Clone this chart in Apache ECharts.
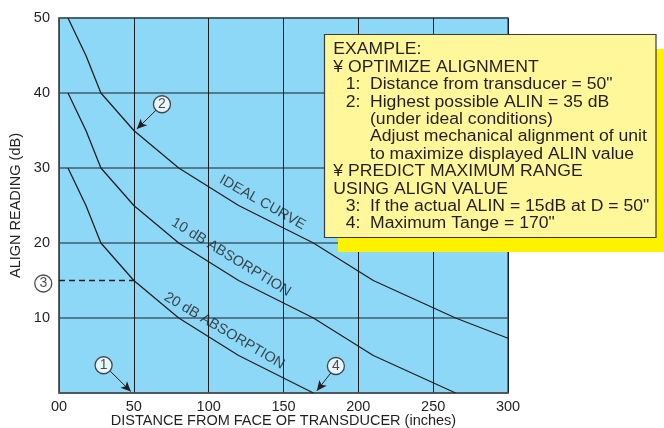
<!DOCTYPE html>
<html><head><meta charset="utf-8">
<script src="https://cdn.jsdelivr.net/npm/echarts@6/dist/echarts.min.js"></script>
<style>html,body{margin:0;padding:0;background:#fff}#c{width:664px;height:428px}</style>
</head><body><div id="c"></div>
<script>
// ---- data ----
const xTickLabels = ['00','50','100','150','200','250','300'];
const idealX = [6,18,28,50,80,120,170,210,265,300];
const idealY = [50,45,40,35,30,25,20,15,10,7.3];
const abs10X = [6,18,28,50,80,120,170,210,265];
const abs10Y = [40,35,30,25,20,15,10,5,0];
const abs20X = [6,18,28,50,80,120,170];
const abs20Y = [30,25,20,15,10,5,0];
const dashX = [0,50];
const dashY = [15,15];
const curveLabels = ['IDEAL CURVE','10 dB ABSORPTION','20 dB ABSORPTION'];
const curveLabelX = [136,115,110.5];
const curveLabelY = [25.4,18.1,8.3];
const curveLabelAngle = [-29.5,-31.5,-30.5];
const markerLabels = ['1','2','3','4'];
const markerX = [29.8,68.8,-10.5,185];
const markerY = [3.7,38.5,14.6,3.6];
const arrowStartX = [34.3,64.8,181.7];
const arrowStartY = [2.9,37.7,2.7];
const arrowEndX = [48,52,172.3];
const arrowEndY = [0.2,35.2,0.3];
const boxNums = ['','','1:','2:','','','','','','3:','4:'];
const boxLines = ['EXAMPLE:','¥ OPTIMIZE ALIGNMENT','Distance from transducer = 50"','Highest possible ALIN = 35 dB','(under ideal conditions)','Adjust mechanical alignment of unit','to maximize displayed ALIN value','¥ PREDICT MAXIMUM RANGE','USING ALIGN VALUE','If the actual ALIN = 15dB at D = 50"','Maximum Tange = 170"'];
const boxIndent = [0,0,1,1,1,1,1,0,0,1,1];

const zip = (a,b) => a.map((v,i)=>[v,b[i]]);
const ink = '#231f20';
const font = 'Liberation Sans, Arial, Helvetica, sans-serif';

const curve = (name, xs, ys) => ({
  type:'line', name, data: zip(xs,ys), symbol:'none', z:3,
  lineStyle:{color:ink, width:1.3}, animation:false
});

const graphic = [];
graphic.push({type:'rect', z:100, shape:{x:338,y:49,width:326,height:203}, style:{fill:'#fff200'}});
graphic.push({type:'rect', z:101, shape:{x:324.5,y:34.5,width:331.5,height:203}, style:{fill:'#fff799', stroke:'#3a3a3a', lineWidth:1.2}});
boxLines.forEach((t,i)=>{
  const y = 50 + i*17.4;
  if (boxNums[i]) graphic.push({type:'text', z:102, x:345.7, y, scaleX:1.1, style:{text:boxNums[i], fill:ink, font:'16px '+font, textVerticalAlign:'middle'}});
  graphic.push({type:'text', z:102, x: boxIndent[i] ? 370 : 333.3, y, scaleX:1.1, style:{text:t, fill:ink, font:'16px '+font, textVerticalAlign:'middle'}});
});

const chart = echarts.init(document.getElementById('c'), null, {renderer:'canvas'});
chart.setOption({
  animation:false,
  backgroundColor:'#ffffff',
  grid:{left:59, right:156, top:18, bottom:35, outerBoundsMode:'none', containLabel:false, show:true, backgroundColor:'#8ed8f7', borderColor:'#555', borderWidth:1.5},
  xAxis:{type:'value', min:0, max:300, interval:50,
    name:'DISTANCE FROM FACE OF TRANSDUCER (inches)', nameLocation:'middle', nameGap:20, nameMoveOverlap:false,
    nameTextStyle:{color:ink, fontSize:14.5, fontFamily:font},
    axisLine:{show:true, lineStyle:{color:'#555', width:1.5}}, axisTick:{show:false},
    axisLabel:{color:ink, fontSize:14.5, fontFamily:font, margin:6, formatter:(v)=>xTickLabels[Math.round(v/50)]},
    splitLine:{show:true, lineStyle:{color:'#1c1c1c', width:1}}},
  yAxis:{type:'value', min:0, max:50, interval:10,
    name:'ALIGN READING (dB)', nameLocation:'middle', nameGap:36, nameMoveOverlap:false,
    nameTextStyle:{color:ink, fontSize:14.5, fontFamily:font},
    axisLine:{show:true, lineStyle:{color:'#555', width:1.5}}, axisTick:{show:false},
    axisLabel:{color:ink, fontSize:14.5, fontFamily:font, margin:9, formatter:(v)=>v===0?'':String(v)},
    splitLine:{show:true, lineStyle:{color:'#3e5c6b', width:1.6}}},
  series:[
    curve('ideal', idealX, idealY),
    curve('abs10', abs10X, abs10Y),
    curve('abs20', abs20X, abs20Y),
    {type:'line', data: zip(dashX,dashY), symbol:'none', z:3, lineStyle:{color:ink, width:1.4, type:[6,4]}},
    {type:'scatter', symbolSize:0, z:4, silent:true,
      data: curveLabels.map((t,i)=>({value:[curveLabelX[i],curveLabelY[i]], label:{show:true, formatter:t, rotate:curveLabelAngle[i], position:'inside', color:ink, fontSize:14.5, fontFamily:font}}))},
    {type:'scatter', symbol:'circle', symbolSize:17, z:5, clip:false, silent:true,
      itemStyle:{color:'#fff', borderColor:ink, borderWidth:1.3},
      label:{show:true, position:'inside', color:ink, fontSize:14, fontFamily:font, formatter:(p)=>markerLabels[p.dataIndex]},
      data: zip(markerX, markerY),
      markLine:{silent:true, symbol:['none','arrow'], symbolSize:[7,10], label:{show:false},
        lineStyle:{color:ink, width:1, type:'solid'},
        data: arrowStartX.map((x,i)=>[{coord:[x,arrowStartY[i]]},{coord:[arrowEndX[i],arrowEndY[i]]}])}}
  ],
  graphic
});
</script></body></html>
